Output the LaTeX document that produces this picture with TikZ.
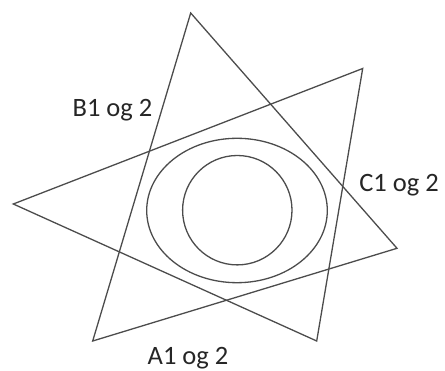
\documentclass[tikz,border=0pt]{standalone}
\usepackage{fontspec}
\setmainfont{Carlito}
\begin{document}
\begin{tikzpicture}[x=1pt,y=-1pt,
  shape line/.style={draw=black!70, line width=1.3pt, line join=miter},
  lbl/.style={font=\fontsize{26.5}{29}\selectfont, text=black!85, inner sep=0pt}]
\useasboundingbox (0,0) rectangle (445,371);
\coordinate (t1a) at (190.7,13);
\coordinate (t1b) at (92.7,341);
\coordinate (t1c) at (397,248.3);
\coordinate (t2a) at (13.3,204);
\coordinate (t2b) at (362.7,68.5);
\coordinate (t2c) at (316.7,341);
\draw[shape line] (t1a) -- (t1b) -- (t1c) -- cycle;
\draw[shape line] (t2a) -- (t2b) -- (t2c) -- cycle;
\draw[shape line] (237,210.5) ellipse [x radius=90.3, y radius=72.2];
\draw[shape line] (237.3,210.2) circle [radius=54.7];
\node[lbl] (b) at (112.5,110) {B1 og 2};
\node[lbl] (c) at (399,185) {C1 og 2};
\node[lbl] (a) at (188,358) {A1 og 2};
\end{tikzpicture}
\end{document}
